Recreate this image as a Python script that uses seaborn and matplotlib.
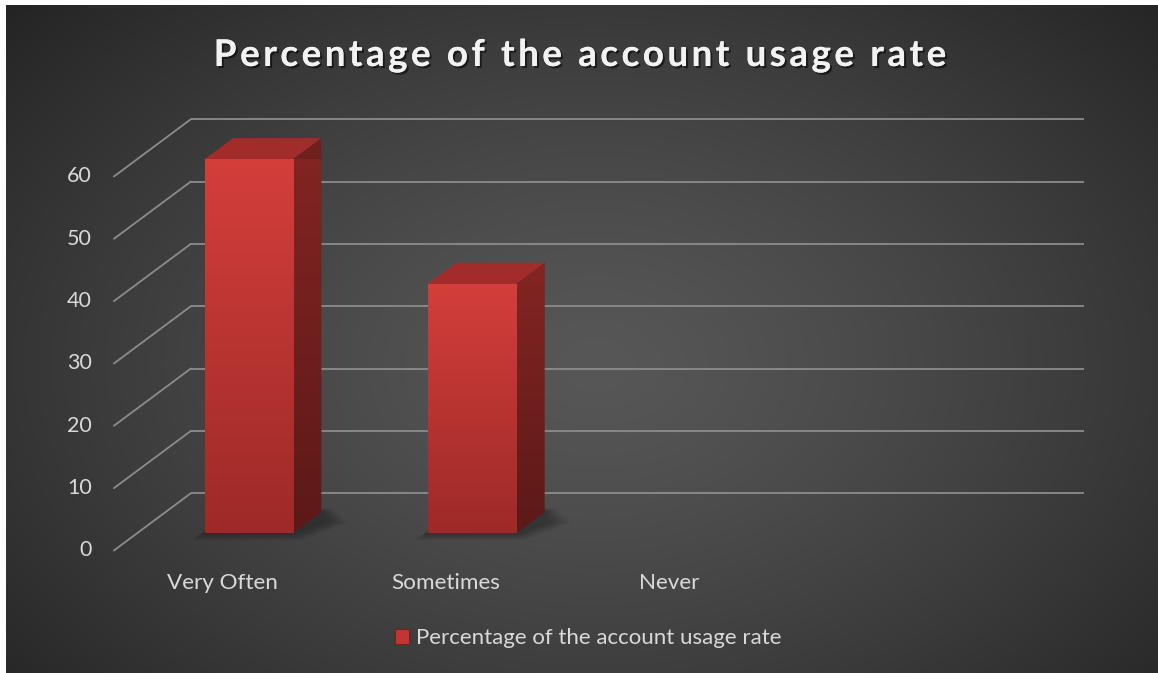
import numpy as np
import pandas as pd
import matplotlib
matplotlib.use("Agg")
import matplotlib.pyplot as plt
import matplotlib.patheffects as pe
from matplotlib.patches import Polygon, Patch
import seaborn as sns

# ---- data ----
categories = ["Very Often", "Sometimes", "Never"]
values = [60, 40, 0]
yticks = [0, 10, 20, 30, 40, 50, 60]
title = "Percentage of the account usage rate"
series_name = "Percentage of the account usage rate"

sns.set_theme(style="white")
plt.rcParams["font.family"] = ["Lato", "DejaVu Sans"]

W, H, DPI = 1158, 673, 100
fig = plt.figure(figsize=(W / DPI, H / DPI), dpi=DPI, facecolor="white")

# ---- background panel with radial shading ----
bg = fig.add_axes([6 / W, 0, (W - 6) / W, (H - 5) / H])
bg.set_axis_off()
gx, gy = np.meshgrid(np.linspace(0, W - 6, 400), np.linspace(0, H - 5, 240))
r = np.sqrt(((gx - 590) / 640) ** 2 + ((gy - 360) / 430) ** 2)
shade = 0x57 - (0x57 - 0x24) * np.clip(r / 1.25, 0, 1) ** 1.3
img = np.dstack([shade, shade, shade]) / 255.0
bg.imshow(img, extent=(0, 1, 0, 1), aspect="auto", origin="upper", interpolation="bilinear")
bg.set_xlim(0, 1)
bg.set_ylim(0, 1)

# ---- main axes: the plane holding the bar front faces ----
L, R = 137.0, 1030.0
Y0, Y60 = 533.3, 159.3
ax = fig.add_axes([L / W, (H - Y0) / H, (R - L) / W, (Y0 - Y60) / H])
ax.set_facecolor("none")

df = pd.DataFrame({"category": categories, "value": values})
sns.barplot(data=df, x="category", y="value", color="#c13633", width=0.395,
            saturation=1, ax=ax, zorder=5, edgecolor="none")

ax.set_xlim(-0.5, 3.5)
ax.set_ylim(0, 60)
ax.set_axis_off()

ux = (R - L) / 4.0      # pixels per category unit
uy = (Y0 - Y60) / 60.0  # pixels per value unit

DEPTH_X, DEPTH_Y = 77.0, 57.3  # full floor depth in pixels
BAR_FRONT, BAR_BACK = 0.30, 0.67


def depth_off(d):
    """Offset (data units) of depth d relative to the bar front plane."""
    return (d - BAR_FRONT) * DEPTH_X / ux, (d - BAR_FRONT) * DEPTH_Y / uy


grid_col = "#8c8c8c"
fx, fy = depth_off(0.0)
bx, by = depth_off(1.0)
x_left, x_right = -0.5, 3.5
for v in yticks:
    # back wall line
    ax.plot([x_left + bx, x_right + bx], [v + by, v + by], color=grid_col,
            lw=1.3, clip_on=False, zorder=1, solid_capstyle="butt")
    # side wall diagonal
    ax.plot([x_left + fx, x_left + bx], [v + fy, v + by], color=grid_col,
            lw=1.3, clip_on=False, zorder=1)
    # value labels
    ax.text(x_left + fx - 22 / ux, v + fy, str(v), ha="right", va="center",
            color="#d9d9d9", fontsize=15.5, clip_on=False)

# category labels on the front edge of the floor
for i, c in enumerate(categories):
    ax.text(i + fx - 3 / ux, fy - 33 / uy, c, ha="center", va="center",
            color="#d9d9d9", fontsize=16.2, clip_on=False)

# ---- 3D faces for each bar ----
ddx, ddy = depth_off(BAR_BACK)
grad = np.linspace(0, 1, 256).reshape(-1, 1)


def vgrad(c_top, c_bot):
    ct = np.array(matplotlib.colors.to_rgb(c_top))
    cb = np.array(matplotlib.colors.to_rgb(c_bot))
    return (ct[None, None, :] * (1 - grad[..., None]) + cb[None, None, :] * grad[..., None])


for bar in list(ax.patches):
    h = bar.get_height()
    if h <= 0:
        bar.set_visible(False)
        continue
    x0 = bar.get_x()
    x1 = x0 + bar.get_width()

    # soft floor shadow, built from stacked translucent layers
    for k in range(8):
        s = k / 7.0
        grow_x = (0.02 + 0.10 * s)
        grow_y = (0.3 + 1.6 * s)
        sh = Polygon([(x0 - grow_x * 0.5, -grow_y * 0.6),
                      (x1 + grow_x * 0.3, -grow_y * 0.6),
                      (x1 + ddx + grow_x, ddy * 0.5),
                      (x1 + ddx + grow_x * 0.4, ddy + grow_y * 0.3),
                      (x0 + ddx, ddy + grow_y * 0.3)],
                     closed=True, facecolor="black", edgecolor="none", alpha=0.035,
                     zorder=2, clip_on=False)
        ax.add_patch(sh)

    # front face gradient
    im = ax.imshow(vgrad("#d43e3b", "#9d2a28"), extent=(x0, x1, 0, h),
                   aspect="auto", origin="upper", zorder=6, interpolation="bilinear")
    im.set_clip_path(bar)

    # right side face
    side = Polygon([(x1, 0), (x1, h), (x1 + ddx, h + ddy), (x1 + ddx, ddy)],
                   closed=True, facecolor="#6f1f1d", edgecolor="none", zorder=4,
                   clip_on=False)
    ax.add_patch(side)
    im2 = ax.imshow(vgrad("#842523", "#5c1918"), extent=(x1, x1 + ddx, 0, h + ddy),
                    aspect="auto", origin="upper", zorder=4, interpolation="bilinear")
    im2.set_clip_path(side)

    # top face
    top = Polygon([(x0, h), (x1, h), (x1 + ddx, h + ddy), (x0 + ddx, h + ddy)],
                  closed=True, facecolor="#a12c2a", edgecolor="none", zorder=5,
                  clip_on=False)
    ax.add_patch(top)

# keep imshow from resetting limits
ax.set_xlim(-0.5, 3.5)
ax.set_ylim(0, 60)

# ---- title (letter-spaced, drawn glyph by glyph) ----
title_size = 26.5
tracking = 3.5  # extra pixels between glyphs
title_fx = [pe.withSimplePatchShadow(offset=(1.5, -1.5), shadow_rgbFace="black", alpha=0.55),
            pe.Normal()]
renderer = fig.canvas.get_renderer()
widths = []
for ch in title:
    t = fig.text(0, 0, ch if ch != " " else "n", fontsize=title_size, fontweight="bold")
    bb = t.get_window_extent(renderer=renderer)
    w = bb.width if ch != " " else bb.width * 0.45
    widths.append(w)
    t.remove()
total = sum(widths) + tracking * (len(title) - 1)
x_cur = 580 - total / 2
for ch, w in zip(title, widths):
    if ch != " ":
        fig.text(x_cur / W, 1 - 66 / H, ch, ha="left", va="baseline", fontsize=title_size,
                 fontweight="bold", color="#f2f2f2", path_effects=title_fx)
    x_cur += w + tracking

# ---- legend ----
handle = Patch(facecolor="#c13633", edgecolor="#7a1f1d", linewidth=0.8)
fig.legend([handle], [series_name], loc="center", bbox_to_anchor=(588 / W, 1 - 638 / H),
           frameon=False, fontsize=16, labelcolor="#d9d9d9",
           handlelength=0.65, handleheight=0.65, handletextpad=0.3)

fig.savefig("out.png", dpi=DPI, facecolor="white")
